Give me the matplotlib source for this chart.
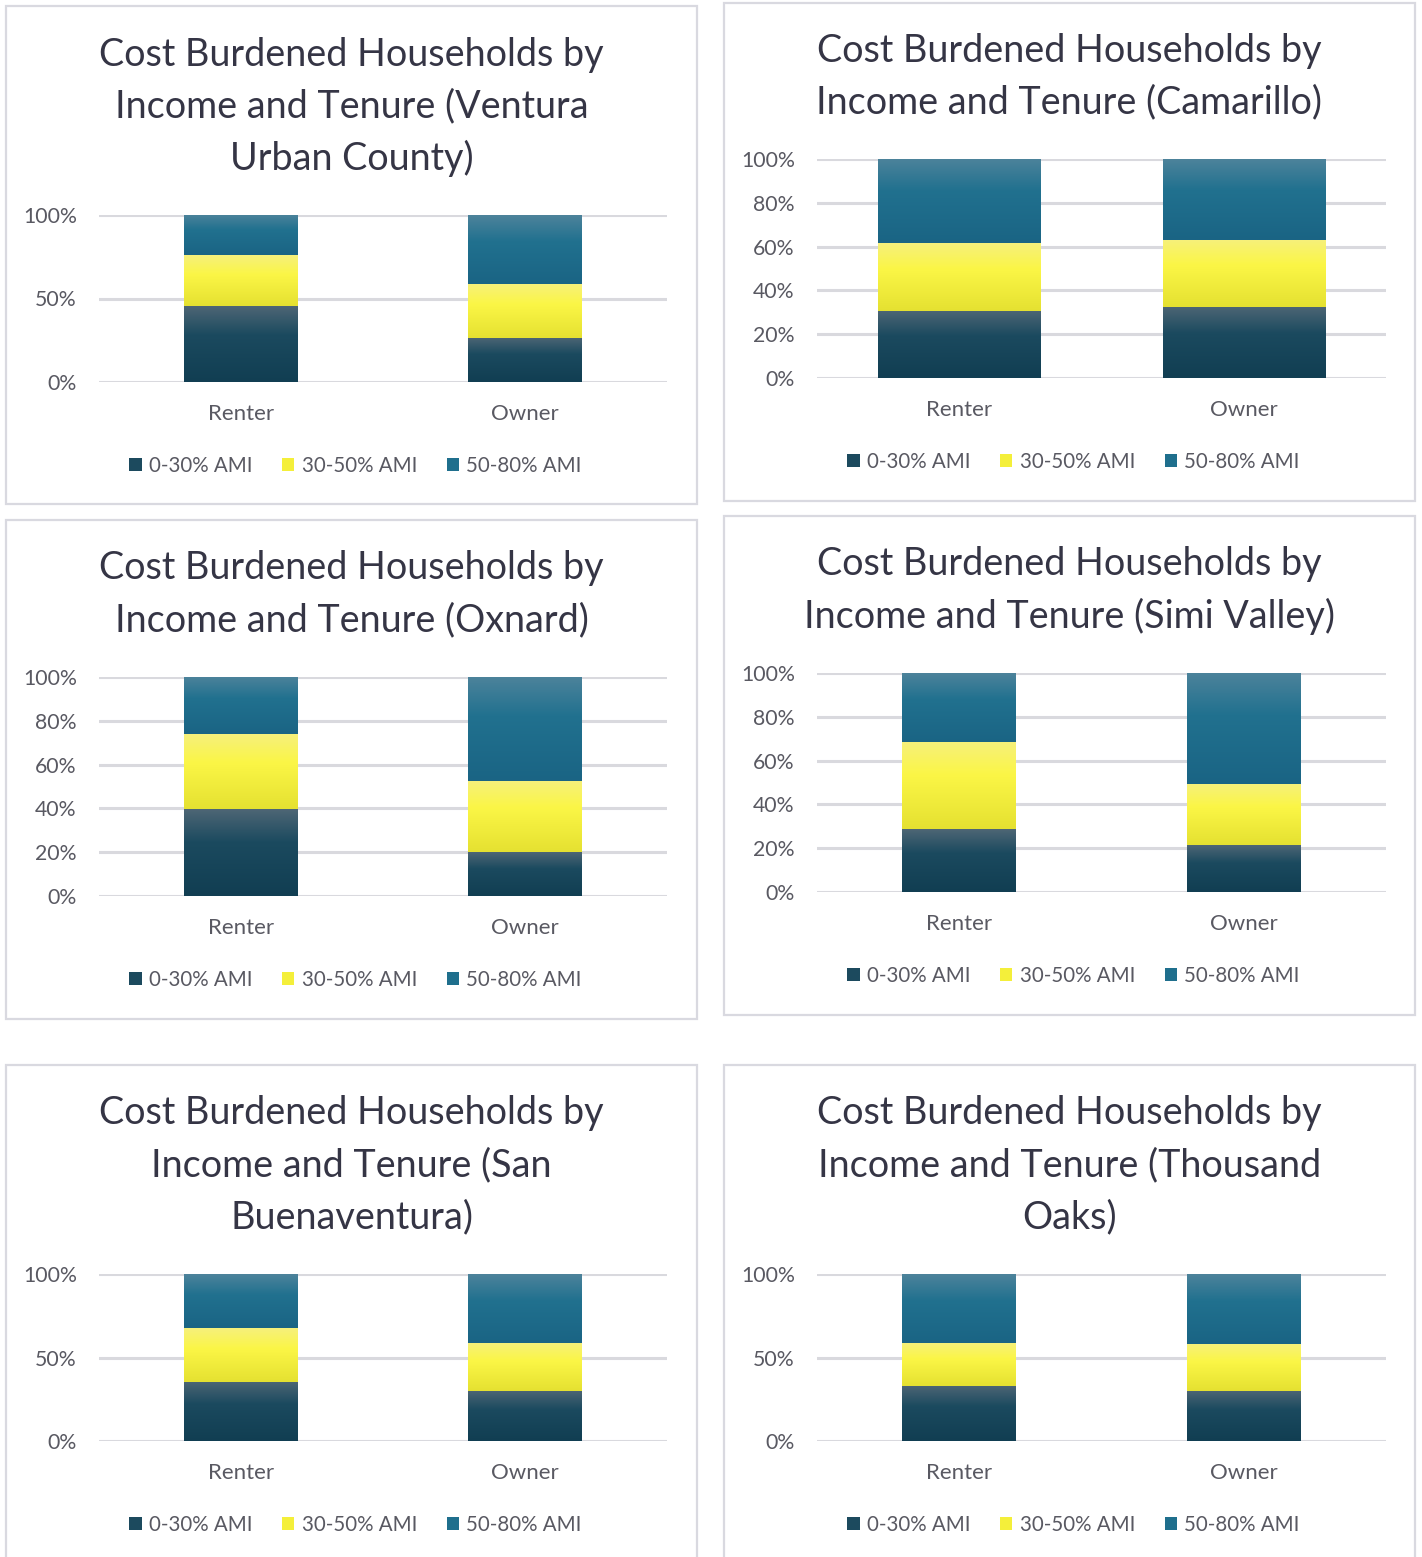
import numpy as np
import matplotlib
matplotlib.use("Agg")
import matplotlib.pyplot as plt
from matplotlib.patches import Rectangle, Patch
from matplotlib.colors import to_rgb

plt.rcParams['font.family'] = ['Lato', 'DejaVu Sans']

W, H = 1422, 1557

# ---------------- data ----------------
categories = ["Renter", "Owner"]
series_names = ["0-30% AMI", "30-50% AMI", "50-80% AMI"]

titles = [
    ["Cost Burdened Households by", "Income and Tenure (Ventura", "Urban County)"],
    ["Cost Burdened Households by", "Income and Tenure (Camarillo)"],
    ["Cost Burdened Households by", "Income and Tenure (Oxnard)"],
    ["Cost Burdened Households by", "Income and Tenure (Simi Valley)"],
    ["Cost Burdened Households by", "Income and Tenure (San", "Buenaventura)"],
    ["Cost Burdened Households by", "Income and Tenure (Thousand", "Oaks)"],
]

# shares in % for [Renter, Owner]
ami_0_30 = [
    [45.5, 26.4],   # Ventura Urban County
    [30.7, 32.6],   # Camarillo
    [39.6, 19.9],   # Oxnard
    [28.7, 21.4],   # Simi Valley
    [35.5, 30.1],   # San Buenaventura
    [33.1, 30.1],   # Thousand Oaks
]
ami_30_50 = [
    [30.5, 32.4],
    [30.9, 30.6],
    [34.2, 32.5],
    [39.9, 27.9],
    [32.3, 28.8],
    [25.8, 28.2],
]
ami_50_80 = [
    [24.0, 41.2],
    [38.4, 36.8],
    [26.2, 47.6],
    [31.4, 50.7],
    [32.2, 41.1],
    [41.1, 41.7],
]

yticks_coarse = [0, 50, 100]
yticks_fine = [0, 20, 40, 60, 80, 100]
panel_ticks = [yticks_coarse, yticks_fine, yticks_fine, yticks_fine, yticks_coarse, yticks_coarse]

# ---------------- layout (pixels) ----------------
panels = [
    dict(border=(6, 6, 697, 504), tl=[55, 106, 158], plot=(99, 215, 667, 382), legy=466, bw=0.40),
    dict(border=(724, 3, 1415, 501), tl=[51, 102], plot=(817, 159, 1386, 378), legy=462, bw=0.57),
    dict(border=(6, 520, 697, 1019), tl=[568, 620], plot=(99, 677, 667, 896), legy=980, bw=0.40),
    dict(border=(724, 516, 1415, 1015), tl=[564, 616], plot=(817, 673, 1386, 892), legy=976, bw=0.40),
    dict(border=(6, 1065, 697, 1580), tl=[1113, 1165, 1217], plot=(99, 1274, 667, 1441), legy=1525, bw=0.40),
    dict(border=(724, 1065, 1415, 1580), tl=[1113, 1165, 1217], plot=(817, 1274, 1386, 1441), legy=1525, bw=0.40),
]

grad_stops = [
    ["#4e6675", "#1b4a5f", "#113e52"],   # dark
    ["#f6f07c", "#fbf646", "#e5e131"],   # yellow
    ["#4d839b", "#21718f", "#1a6484"],   # blue
]
legend_colors = ["#1c4a5e", "#f4ef3a", "#1f6f8d"]

title_color = "#353545"
label_color = "#595962"
grid_color = "#d9d9de"
border_color = "#d9d9e0"


def make_gradient(stops, n=200):
    cols = [np.array(to_rgb(c)) for c in stops]
    pos = np.array([0.0, 0.38, 1.0])
    t = np.linspace(0, 1, n)
    arr = np.zeros((n, 1, 3))
    for k in range(3):
        arr[:, 0, k] = np.interp(t, pos, [c[k] for c in cols])
    return arr


gradients = [make_gradient(s) for s in grad_stops]

fig = plt.figure(figsize=(W / 100, H / 100), dpi=100)


def fx(x):
    return x / W


def fy(y):
    return 1 - y / H


for i, p in enumerate(panels):
    bx0, by0, bx1, by1 = p["border"]
    fig.add_artist(Rectangle((fx(bx0), fy(by1)), fx(bx1 - bx0), (by1 - by0) / H,
                             transform=fig.transFigure, fill=False,
                             edgecolor=border_color, linewidth=1.6, zorder=0))
    cx = (bx0 + bx1) / 2
    for line, ly in zip(titles[i], p["tl"]):
        fig.text(fx(cx), fy(ly), line, ha="center", va="center",
                 fontsize=27.2, color=title_color)

    px0, pt, px1, pb = p["plot"]
    ax = fig.add_axes([fx(px0), fy(pb), (px1 - px0) / W, (pb - pt) / H])
    x = np.arange(len(categories))
    bottoms = np.zeros(len(categories))
    for s, vals in enumerate([ami_0_30[i], ami_30_50[i], ami_50_80[i]]):
        vals = np.array(vals)
        bars = ax.bar(x, vals, p["bw"], bottom=bottoms, color="none", zorder=2)
        for b in bars:
            x0b, y0b = b.get_x(), b.get_y()
            ax.imshow(gradients[s], extent=(x0b, x0b + b.get_width(), y0b, y0b + b.get_height()),
                      origin="upper", aspect="auto", zorder=2, interpolation="bilinear")
        bottoms = bottoms + vals
    ax.set_xlim(-0.5, 1.5)
    ax.set_ylim(0, 100)
    ticks = panel_ticks[i]
    ax.set_yticks(ticks)
    ax.set_yticklabels([f"{t}%" for t in ticks])
    ax.set_xticks(x)
    ax.set_xticklabels(categories)
    ax.tick_params(axis="x", length=0, labelsize=16, colors=label_color, pad=16)
    ax.tick_params(axis="y", length=0, labelsize=15.3, colors=label_color, pad=16)
    for sp in ax.spines.values():
        sp.set_visible(False)
    ax.yaxis.grid(True, color=grid_color, linewidth=2.2, zorder=0)
    ax.set_axisbelow(True)
    ax.set_facecolor("none")

    handles = [Patch(facecolor=c, edgecolor="none") for c in legend_colors]
    fig.legend(handles, series_names, loc="center", ncol=3,
               bbox_to_anchor=(fx(cx + 4), fy(p["legy"])), frameon=False,
               fontsize=14.8, labelcolor=label_color,
               handlelength=0.6, handleheight=0.6, handletextpad=0.35,
               columnspacing=1.45, borderpad=0)

fig.savefig("out.png", dpi=100, facecolor="white")
